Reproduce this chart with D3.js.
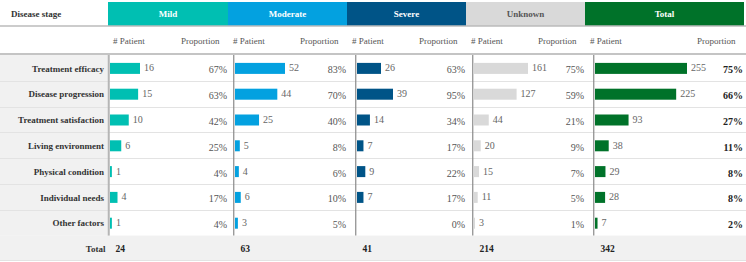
<!DOCTYPE html>
<html>
<head>
<meta charset="utf-8">
<script src="https://cdn.jsdelivr.net/npm/d3@7"></script>
<style>
  body { margin: 0; background: #fff; }
  svg { display: block; }
  svg text { font-family: "Liberation Serif", "DejaVu Serif", "Times New Roman", serif; }
</style>
</head>
<body>
<svg id="chart" width="746" height="262"></svg>
<script>
const stages = ['Mild', 'Moderate', 'Severe', 'Unknown', 'Total'];
const factors = ['Treatment efficacy', 'Disease progression', 'Treatment satisfaction',
  'Living environment', 'Physical condition', 'Individual needs', 'Other factors'];

const mildPatients = [16, 15, 10, 6, 1, 4, 1];
const moderatePatients = [52, 44, 25, 5, 4, 6, 3];
const severePatients = [26, 39, 14, 7, 9, 7, 0];
const unknownPatients = [161, 127, 44, 20, 15, 11, 3];
const totalPatients = [255, 225, 93, 38, 29, 28, 7];

const mildShare = [67, 63, 42, 25, 4, 17, 4];
const moderateShare = [83, 70, 40, 8, 6, 10, 5];
const severeShare = [63, 95, 34, 17, 22, 17, 0];
const unknownShare = [75, 59, 21, 9, 7, 5, 1];
const totalShare = [75, 66, 27, 11, 8, 8, 2];

const stageTotals = [24, 63, 41, 214, 342];

class StageTable {
  constructor(svg) {
    this.svg = svg;
    this.counts = [mildPatients, moderatePatients, severePatients, unknownPatients, totalPatients];
    this.shares = [mildShare, moderateShare, severeShare, unknownShare, totalShare];

    // Layout (header bands and body columns don't quite line up in the original)
    this.bandEdges = [108, 228, 347, 466, 585, 744];
    this.bodyLeft = [108, 233, 355, 472, 593];
    this.barMax = [30, 50, 36, 54, 92];
    this.colors = ['#00bfb2', '#03a1e0', '#005487', '#d9d9d9', '#007229'];
    this.headText = ['#fff', '#fff', '#fff', '#555', '#fff'];

    this.rowTop = 55;
    this.rowH = 25.8;

    this.render();
  }

  render() {
    const svg = this.svg;
    const grey = '#f1f1f1';
    const bodyBottom = this.rowTop + this.rowH * factors.length;

    this.y = d3.scaleBand().domain(factors).range([this.rowTop, bodyBottom]);

    // label column + total row backgrounds
    svg.append('rect').attr('x', 0).attr('y', this.rowTop).attr('width', 108)
      .attr('height', bodyBottom - this.rowTop).attr('fill', grey);
    svg.append('rect').attr('x', 0).attr('y', bodyBottom).attr('width', 746)
      .attr('height', 25).attr('fill', grey);

    // row separators
    svg.append('g').selectAll('line')
      .data(factors.slice(1))
      .join('line')
      .attr('x1', 0).attr('x2', 746)
      .attr('y1', (d) => Math.round(this.y(d)) + 0.5)
      .attr('y2', (d) => Math.round(this.y(d)) + 0.5)
      .attr('stroke', '#e3e3e3');
    svg.append('line').attr('x1', 0).attr('x2', 746)
      .attr('y1', 260.5).attr('y2', 260.5).attr('stroke', '#e3e3e3');

    // header bands
    const head = svg.append('g');
    head.selectAll('rect')
      .data(stages)
      .join('rect')
      .attr('x', (d, i) => this.bandEdges[i])
      .attr('y', 2)
      .attr('width', (d, i) => this.bandEdges[i + 1] - this.bandEdges[i])
      .attr('height', 23.5)
      .attr('fill', (d, i) => this.colors[i]);
    head.selectAll('text')
      .data(stages)
      .join('text')
      .attr('x', (d, i) => (this.bandEdges[i] + this.bandEdges[i + 1]) / 2)
      .attr('y', 14)
      .attr('dy', '0.35em')
      .attr('text-anchor', 'middle')
      .attr('font-size', 9)
      .attr('font-weight', 'bold')
      .attr('fill', (d, i) => this.headText[i])
      .text((d) => d);
    svg.append('text')
      .attr('x', 11).attr('y', 14).attr('dy', '0.35em')
      .attr('font-size', 9).attr('font-weight', 'bold').attr('fill', '#333')
      .text('Disease stage');

    svg.append('line').attr('x1', 0).attr('x2', 746).attr('y1', 26).attr('y2', 26)
      .attr('stroke', '#999').attr('stroke-width', 1);
    svg.append('line').attr('x1', 0).attr('x2', 746).attr('y1', 54).attr('y2', 54)
      .attr('stroke', '#c4c4c4').attr('stroke-width', 2);

    // sub headers
    const sub = svg.append('g').attr('font-size', 9).attr('fill', '#555');
    stages.forEach((s, i) => {
      sub.append('text').attr('x', this.bandEdges[i] + 5).attr('y', 41).attr('dy', '0.35em')
        .text('# Patient');
      sub.append('text').attr('x', this.bandEdges[i + 1] - 8.5).attr('y', 41).attr('dy', '0.35em')
        .attr('text-anchor', 'end').text('Proportion');
    });

    // row labels
    svg.append('g').selectAll('text')
      .data(factors)
      .join('text')
      .attr('x', 104)
      .attr('y', (d) => this.y(d) + this.y.bandwidth() / 2 + 0.5)
      .attr('dy', '0.35em')
      .attr('text-anchor', 'end')
      .attr('font-size', 9)
      .attr('font-weight', 'bold')
      .attr('fill', '#333')
      .text((d) => d);

    stages.forEach((s, i) => this.renderColumn(i));

    // vertical dividers
    svg.append('g').selectAll('line')
      .data(this.bodyLeft)
      .join('line')
      .attr('x1', (d) => d + 0.75).attr('x2', (d) => d + 0.75)
      .attr('y1', this.rowTop).attr('y2', bodyBottom)
      .attr('stroke', (d, i) => (i === 0 ? '#b5b5b5' : '#8a8a8a'))
      .attr('stroke-width', (d, i) => (i === 0 ? 2 : 1.2));

    // total row
    svg.append('text').attr('x', 105.5).attr('y', bodyBottom + 13).attr('dy', '0.35em')
      .attr('text-anchor', 'end').attr('font-size', 9).attr('font-weight', 'bold')
      .attr('fill', '#333').text('Total');
    svg.append('g').selectAll('text')
      .data(stageTotals)
      .join('text')
      .attr('x', (d, i) => this.bodyLeft[i] + 7.5)
      .attr('y', bodyBottom + 13)
      .attr('dy', '0.35em')
      .attr('font-size', 9.5)
      .attr('font-weight', 'bold')
      .attr('fill', '#222')
      .text((d) => d);
  }

  renderColumn(i) {
    const counts = this.counts[i];
    const shares = this.shares[i];
    const x0 = this.bodyLeft[i] + 2;
    const x = d3.scaleLinear().domain([0, d3.max(counts)]).range([0, this.barMax[i]]);
    const isTotal = i === stages.length - 1;
    const barH = 11;
    const g = this.svg.append('g');
    const mid = (k) => this.y(factors[k]) + this.y.bandwidth() / 2;

    g.selectAll('rect')
      .data(counts)
      .join('rect')
      .attr('x', x0)
      .attr('y', (d, k) => mid(k) - barH / 2 + 0.5)
      .attr('width', (d) => x(d))
      .attr('height', barH)
      .attr('fill', this.colors[i]);

    g.selectAll('text.count')
      .data(counts)
      .join('text')
      .attr('class', 'count')
      .attr('x', (d) => x0 + x(d) + 4)
      .attr('y', (d, k) => mid(k))
      .attr('dy', '0.35em')
      .attr('font-size', 10)
      .attr('fill', '#666')
      .text((d) => (d > 0 ? d : ''));

    g.selectAll('text.share')
      .data(shares)
      .join('text')
      .attr('class', 'share')
      .attr('x', this.bandEdges[i + 1] - 1)
      .attr('y', (d, k) => mid(k) + 2)
      .attr('dy', '0.35em')
      .attr('text-anchor', 'end')
      .attr('font-size', 10)
      .attr('font-weight', isTotal ? 'bold' : 'normal')
      .attr('fill', isTotal ? '#222' : '#555')
      .text((d) => `${d}%`);
  }
}

new StageTable(d3.select('#chart'));
</script>
</body>
</html>
